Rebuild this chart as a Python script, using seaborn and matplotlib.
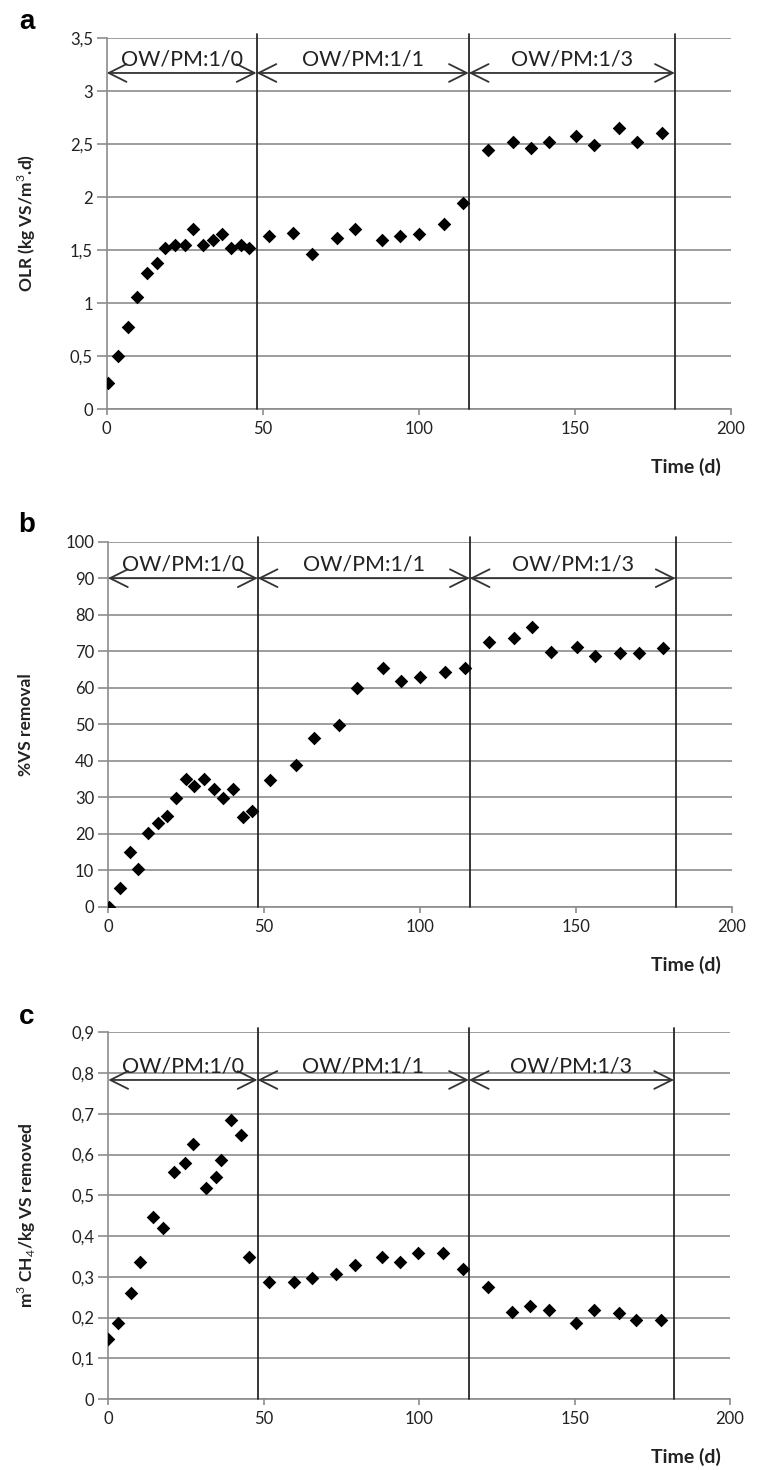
import numpy as np
import pandas as pd
import matplotlib
matplotlib.use("Agg")
import matplotlib.pyplot as plt
import seaborn as sns
from matplotlib.ticker import FuncFormatter

# ---------------- data ----------------
day_a = [0.5, 3.7, 6.9, 9.6, 12.8, 16.0, 18.7, 21.9, 25.1, 27.8, 30.8, 34.0, 36.9, 39.8, 43.0, 45.7,
         52.0, 59.8, 65.9, 73.7, 79.6, 88.1, 94.0, 99.9, 107.9, 114.3,
         122.1, 130.1, 135.9, 141.8, 150.3, 156.2, 164.2, 169.9, 177.9]
olr = [0.25, 0.50, 0.77, 1.06, 1.28, 1.38, 1.52, 1.55, 1.55, 1.70, 1.55, 1.59, 1.65, 1.52, 1.55, 1.52,
       1.63, 1.66, 1.46, 1.61, 1.70, 1.59, 1.63, 1.65, 1.75, 1.94,
       2.44, 2.52, 2.46, 2.52, 2.58, 2.49, 2.65, 2.52, 2.60]

day_b = [0.4, 3.8, 7.1, 9.7, 12.9, 15.9, 18.8, 21.8, 25.0, 27.7, 30.9, 34.1, 36.9, 40.0, 43.2, 46.1,
         52.1, 60.2, 66.0, 74.0, 79.7, 88.2, 94.1, 100.0, 108.0, 114.4,
         122.2, 130.1, 136.0, 141.9, 150.4, 156.3, 164.3, 170.2, 178.0]
vs_removal = [0.0, 5.2, 15.1, 10.2, 20.1, 22.8, 24.8, 29.9, 34.9, 33.1, 34.9, 32.2, 29.9, 32.2, 24.7, 26.2,
              34.7, 38.8, 46.1, 49.8, 59.8, 65.3, 61.9, 63.0, 64.4, 65.3,
              72.6, 73.7, 76.7, 69.9, 71.2, 68.7, 69.4, 69.4, 70.8]

day_c = [0.0, 3.2, 7.3, 10.2, 14.5, 17.7, 21.2, 24.6, 27.3, 31.3, 34.5, 36.2, 39.4, 42.7, 45.3,
         51.8, 59.7, 65.6, 73.4, 79.3, 87.9, 93.8, 99.7, 107.7, 114.1,
         122.0, 130.0, 135.8, 141.7, 150.3, 156.2, 164.2, 169.9, 177.9]
ch4_yield = [0.147, 0.187, 0.259, 0.337, 0.447, 0.419, 0.558, 0.578, 0.627, 0.517, 0.546, 0.587, 0.685, 0.648, 0.349,
             0.288, 0.288, 0.296, 0.308, 0.329, 0.349, 0.337, 0.358, 0.358, 0.318,
             0.276, 0.214, 0.228, 0.218, 0.187, 0.218, 0.210, 0.194, 0.194]

phase_bounds = [0, 48, 116, 182]
phase_labels = ["OW/PM:1/0", "OW/PM:1/1", "OW/PM:1/3"]
x_ticks = [0, 50, 100, 150, 200]

panel_letters = ["a", "b", "c"]
y_labels = ["OLR (kg VS/m$^3$.d)", "%VS removal", "m$^3$ CH$_4$/kg VS removed"]
y_max = [3.5, 100, 0.9]
y_step = [0.5, 10, 0.1]
arrow_y = [3.17, 90, 0.783]

# ---------------- style ----------------
sns.set_theme(style="white")
plt.rcParams["font.family"] = ["Lato", "DejaVu Sans"]
plt.rcParams["mathtext.fontset"] = "custom"
plt.rcParams["mathtext.rm"] = "Lato"
plt.rcParams["mathtext.bf"] = "Lato:bold"

W, H = 763, 1470
fig = plt.figure(figsize=(W / 100, H / 100), dpi=100)

# axes boxes in pixels: left, top, right, bottom
boxes = [(106.7, 38.0, 731.0, 409.0),
         (108.0, 541.7, 731.7, 906.7),
         (108.3, 1032.3, 730.0, 1399.0)]

xs = [day_a, day_b, day_c]
ys = [olr, vs_removal, ch4_yield]

grid_col = "#8c8c8c"
line_col = "#262626"


def comma_fmt(v, pos):
    s = ("%.1f" % v).rstrip("0").rstrip(".")
    return s.replace(".", ",")


for i in range(3):
    l, t, r, b = boxes[i]
    ax = fig.add_axes([l / W, 1 - b / H, (r - l) / W, (b - t) / H])
    df = pd.DataFrame({"day": xs[i], "val": ys[i]})
    sns.scatterplot(data=df, x="day", y="val", marker="D", s=48, color="black",
                    edgecolor="black", linewidth=0, ax=ax, zorder=6, legend=False)
    ax.set_xlim(0, 200)
    ax.set_ylim(0, y_max[i])
    ax.set_xticks(x_ticks)
    ax.set_yticks(np.round(np.arange(0, y_max[i] + y_step[i] / 2, y_step[i]), 3))
    ax.yaxis.set_major_formatter(FuncFormatter(comma_fmt))
    ax.set_xlabel("")
    ax.set_ylabel("")
    ax.yaxis.grid(True, color=grid_col, lw=1.2)
    ax.xaxis.grid(False)
    ax.set_axisbelow(True)
    for sp in ["top", "right"]:
        ax.spines[sp].set_visible(False)
    for sp in ["left", "bottom"]:
        ax.spines[sp].set_color(grid_col)
        ax.spines[sp].set_linewidth(1.2)
    ax.tick_params(axis="y", direction="out", length=7, width=1.2, color=grid_col,
                   labelsize=12, pad=3, labelcolor="#222222", left=True)
    ax.tick_params(axis="x", direction="out", length=4, width=1.2, color=grid_col,
                   labelsize=12, pad=5, labelcolor="#222222", bottom=True)

    # phase boundaries
    for bd in phase_bounds[1:]:
        ax.axvline(bd, ymin=0, ymax=1.012, color=line_col, lw=1.3, clip_on=False, zorder=4)

    # double arrows with phase labels
    for k in range(3):
        ax.annotate("", xy=(phase_bounds[k + 1], arrow_y[i]), xytext=(phase_bounds[k], arrow_y[i]),
                    arrowprops=dict(arrowstyle="<->", color="#333333", lw=1.3,
                                    shrinkA=0, shrinkB=0, mutation_scale=32), zorder=5)
        mid = (phase_bounds[k] + phase_bounds[k + 1]) / 2
        ax.annotate(phase_labels[k], xy=(mid, arrow_y[i]), xytext=(0, 2.5),
                    textcoords="offset points", ha="center", va="bottom",
                    fontsize=15.5, color="#222222", zorder=7)

    # y label
    ax.text((26 - l) / (r - l), 0.5, y_labels[i], transform=ax.transAxes,
            rotation=90, ha="center", va="center", fontsize=12.5, fontweight="bold", color="#222222")
    # x label
    ax.text((686 - l) / (r - l), -(58) / (b - t), "Time (d)", transform=ax.transAxes,
            ha="center", va="center", fontsize=14, fontweight="bold", color="#222222")

# panel letters
letter_pos = [(27, 22), (27, 525), (27, 1017)]
for (px, py), lt in zip(letter_pos, panel_letters):
    fig.text(px / W, 1 - py / H, lt, ha="center", va="center", fontsize=20,
             fontweight="bold", family=["Liberation Sans", "DejaVu Sans"], color="black")

fig.savefig("out.png", dpi=100, facecolor="white")
